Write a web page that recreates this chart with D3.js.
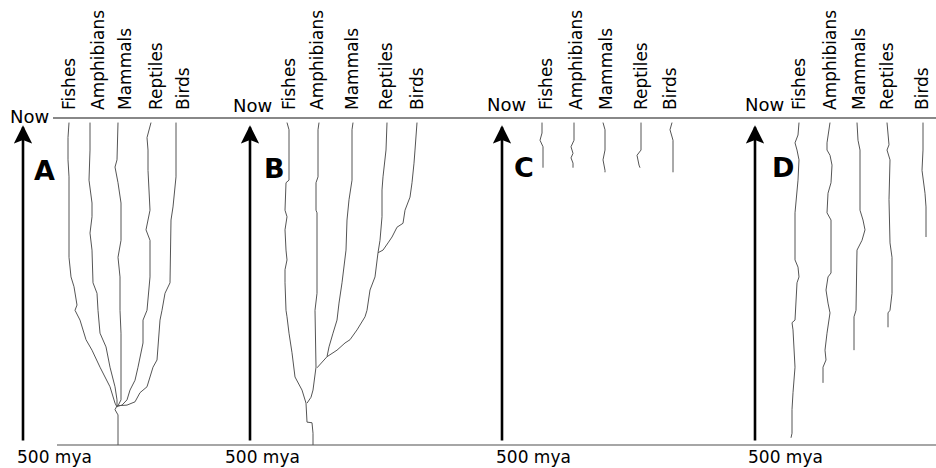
<!DOCTYPE html>
<html>
<head>
<meta charset="utf-8">
<script src="https://cdn.jsdelivr.net/npm/d3@7"></script>
<style>
  html, body { margin: 0; padding: 0; background: #fff; }
  text { font-family: "DejaVu Sans", sans-serif; fill: #000; }
</style>
</head>
<body>
<div id="chart"></div>
<script>
// lineage names, one column per panel
const categories = ["Fishes", "Amphibians", "Mammals", "Reptiles", "Birds"];
const panelNames = ["A", "B", "C", "D"];
const timeTicks = ["Now", "500 mya"];

// each lineage: [million years ago, trait position]
const lineagesA = [
  [[7,69],[30,68],[64,68],[90,69],[213,69],[243,71],[258,74],[286,77],[294,75],[309,80],[339,86],[355,92],[381,100],[411,110],[436,115],[442,117]],
  [[7,90],[49,90],[95,89],[130,92],[151,92],[176,90],[202,92],[252,93],[268,97],[294,98],[329,100],[350,106],[381,110],[411,115],[431,117],[442,117]],
  [[7,118],[64,117],[75,115],[99,118],[130,121],[187,121],[213,118],[243,120],[294,120],[329,121],[431,121],[440,118]],
  [[7,151],[30,147],[49,148],[80,148],[141,150],[171,146],[187,150],[243,150],[294,147],[309,143],[344,143],[381,138],[401,135],[416,130],[431,127],[439,122],[441,117]],
  [[7,176],[90,176],[136,173],[156,171],[252,170],[268,165],[294,162],[309,160],[370,157],[381,153],[411,147],[420,140],[434,135],[439,127],[440,117]]
];
const trunkA = [[440,117],[446,115],[454,118],[500,118]];

const lineagesB = [
  [[7,57],[18,59],[95,59],[99,56],[141,55],[151,57],[171,55],[202,56],[217,57],[232,55],[252,55],[294,56],[304,57],[329,59],[359,62],[396,65],[416,72],[436,76]],
  [[7,89],[18,88],[90,88],[99,86],[141,86],[145,87],[268,87],[294,85],[381,86],[416,83],[427,81],[436,77]],
  [[7,123],[18,122],[95,122],[125,119],[156,117],[202,116],[252,112],[283,109],[309,107],[329,103],[350,99],[365,97],[382,87]],
  [[7,157],[49,156],[90,153],[110,152],[151,152],[187,150],[206,148],[243,145],[263,140],[294,137],[304,135],[324,127],[339,120],[344,115],[355,107],[362,100],[365,97]],
  [[7,187],[49,185],[69,184],[99,182],[121,180],[141,175],[161,173],[167,167],[182,162],[191,158],[202,153],[206,148]]
];
const trunkB = [[436,76],[465,77],[466,82],[482,83],[500,83]];

const lineagesC = [
  [[7,62],[23,62],[34,60],[44,63],[76,63]],
  [[7,94],[34,94],[44,91],[54,93],[61,91],[69,93],[76,93]],
  [[7,123],[18,125],[49,125],[64,123],[80,125],[83,125]],
  [[7,161],[49,161],[57,157],[72,159],[76,160]],
  [[7,192],[18,190],[34,193],[83,193]]
];

const lineagesD = [
  [[7,69],[26,68],[38,65],[49,67],[64,69],[95,68],[145,65],[217,65],[228,68],[243,69],[252,67],[309,65],[313,62],[324,63],[381,65],[420,63],[446,62],[482,62],[489,61]],
  [[7,100],[38,97],[49,97],[57,100],[72,102],[99,101],[115,98],[145,97],[156,101],[237,101],[243,98],[263,96],[283,98],[298,100],[329,97],[355,95],[370,96],[381,93],[405,93]],
  [[7,127],[34,128],[49,130],[141,130],[156,133],[171,135],[187,132],[202,127],[294,126],[304,124],[355,124]],
  [[7,157],[41,159],[49,157],[64,160],[125,159],[191,160],[213,162],[268,162],[294,160],[298,158],[320,158]],
  [[7,193],[49,193],[80,192],[115,195],[136,196],[182,196]]
];

const width = 936, height = 468;

// panel layout: left edge, arrow, label columns, where "Now" sits
const panels = [
  { lineages: lineagesA, trunk: trunkA, left: 0,   arrow: 23,  labels: [75,104,131,162,189], now: [10, 123], base: 17,  letter: [34, 180] },
  { lineages: lineagesB, trunk: trunkB, left: 230, arrow: 20,  labels: [65,93,128,162,193],  now: [3, 112],  base: -5,  letter: [34, 178] },
  { lineages: lineagesC, trunk: null,   left: 480, arrow: 22,  labels: [72,102,132,167,196], now: [7, 111],  base: 16,  letter: [34, 177] },
  { lineages: lineagesD, trunk: null,   left: 730, arrow: 25,  labels: [75,106,135,163,198], now: [15, 111], base: 18,  letter: [42, 177] }
];

const y = d3.scaleLinear().domain([0, 500]).range([118, 445]);

const svg = d3.select("#chart").append("svg")
    .attr("width", width)
    .attr("height", height);

svg.append("defs").append("marker")
    .attr("id", "head")
    .attr("viewBox", "0 0 10 10")
    .attr("refX", 9)
    .attr("refY", 5)
    .attr("markerWidth", 7)
    .attr("markerHeight", 7)
    .attr("markerUnits", "strokeWidth")
    .attr("orient", "auto")
  .append("path")
    .attr("d", "M0,0 L10,5 L0,10 L2,5 Z")
    .attr("fill", "#000");

// time axis lines
svg.append("line")
    .attr("x1", 53).attr("x2", width)
    .attr("y1", y(0)).attr("y2", y(0))
    .attr("stroke", "#888").attr("stroke-width", 2);
svg.append("line")
    .attr("x1", 57).attr("x2", width)
    .attr("y1", y(500)).attr("y2", y(500))
    .attr("stroke", "#888").attr("stroke-width", 1.5);

panels.forEach((p, i) => {
  const x = d3.scaleLinear().domain([0, 200]).range([p.left, p.left + 200]);
  const line = d3.line().x(d => x(d[1])).y(d => y(d[0]));
  const g = svg.append("g");

  g.selectAll("path.lineage")
    .data(p.trunk ? p.lineages.concat([p.trunk]) : p.lineages)
    .join("path")
      .attr("class", "lineage")
      .attr("d", line)
      .attr("fill", "none")
      .attr("stroke", "#555")
      .attr("stroke-width", 1);

  g.selectAll("text.cat")
    .data(categories)
    .join("text")
      .attr("class", "cat")
      .attr("transform", (d, j) => `translate(${x(p.labels[j])},110) rotate(-90)`)
      .attr("font-size", 17)
      .text(d => d);

  // arrow pointing up from 500 mya to now
  g.append("line")
      .attr("x1", x(p.arrow)).attr("x2", x(p.arrow))
      .attr("y1", y(493)).attr("y2", y(14))
      .attr("stroke", "#000")
      .attr("stroke-width", 2.6)
      .attr("marker-end", "url(#head)");

  g.append("text")
      .attr("x", x(p.now[0]))
      .attr("y", p.now[1])
      .attr("font-size", 18)
      .text(timeTicks[0]);

  g.append("text")
      .attr("x", x(p.base))
      .attr("y", 463)
      .attr("font-size", 17)
      .text(timeTicks[1]);

  g.append("text")
      .attr("x", x(p.letter[0]))
      .attr("y", p.letter[1])
      .attr("font-size", 27)
      .attr("font-weight", "bold")
      .text(panelNames[i]);
});
</script>
</body>
</html>
